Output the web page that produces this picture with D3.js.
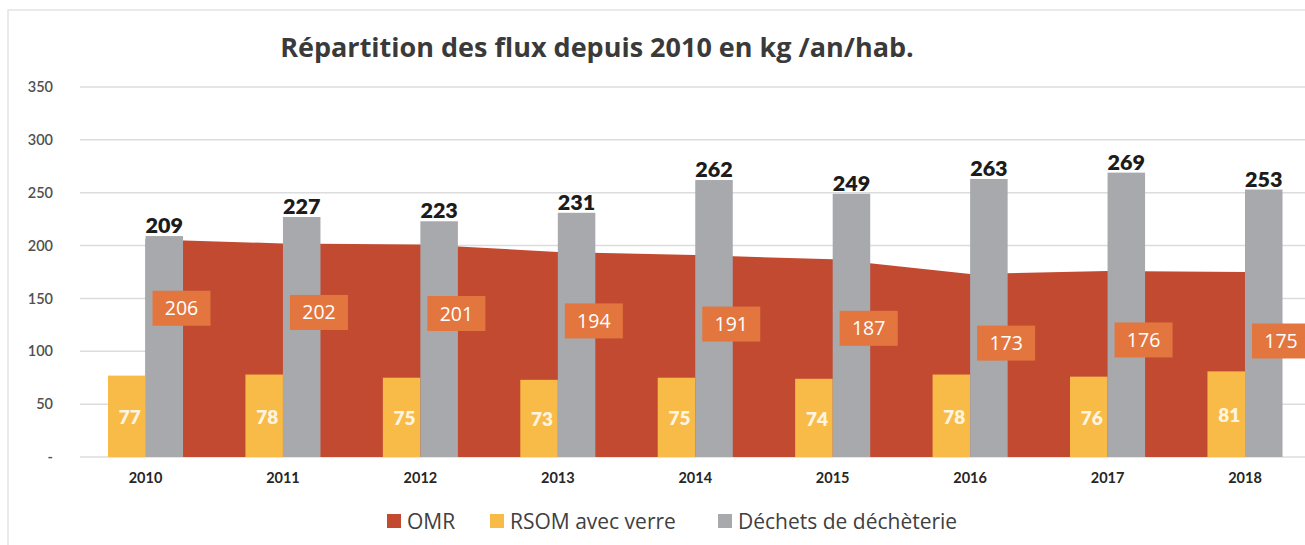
<!DOCTYPE html>
<html><head><meta charset="utf-8">
<script src="https://cdn.jsdelivr.net/npm/d3@7"></script>
<style>body{margin:0;background:#fff;}svg{display:block;}</style>
</head><body>
<svg id="c" width="1305" height="545"></svg>
<script>
const years = ["2010","2011","2012","2013","2014","2015","2016","2017","2018"];
const omr = [206,202,201,194,191,187,173,176,175];
const rsom = [77,78,75,73,75,74,78,76,81];
const decheterie = [209,227,223,231,262,249,263,269,253];
const yTicks = [0,50,100,150,200,250,300,350];
const seriesNames = ["OMR","RSOM avec verre","Déchets de déchèterie"];
const title = "Répartition des flux depuis 2010 en kg /an/hab.";

const colors = {omr:"#c24a31", rsom:"#f8bb47", dech:"#a7a9ac", box:"#e3763f"};
const font = "Lato, 'Open Sans', sans-serif";
const font2 = "'Open Sans', Lato, sans-serif";

const svg = d3.select("#c");
svg.append("rect").attr("x",8).attr("y",10).attr("width",1320).attr("height",560)
  .attr("fill","none").attr("stroke","#e3e3e3").attr("stroke-width",1.5);

const x = d3.scaleBand().domain(years).range([76.8, 1313.7]).paddingInner(0.454).paddingOuter(0.227);
const x1 = d3.scaleBand().domain(["rsom","dech"]).range([0, x.bandwidth()]);
const y = d3.scaleLinear().domain([0,350]).range([457,87]);
const cx = d => x(d) + x.bandwidth()/2;

// grid
svg.append("g").selectAll("line").data(yTicks).join("line")
  .attr("x1",80).attr("x2",1305).attr("y1",d=>y(d)).attr("y2",d=>y(d))
  .attr("stroke","#dcdcdc").attr("stroke-width",1.5);

// y axis labels
const yAxis = d3.axisLeft(y).tickValues(yTicks).tickSize(0).tickPadding(0)
  .tickFormat(d => d===0 ? "-" : d);
const ya = svg.append("g").attr("transform","translate(53,0)").call(yAxis);
ya.select(".domain").remove();
ya.selectAll("text").attr("font-family",font).attr("font-size",14.5).attr("font-weight",600).attr("fill","#505050");

// area
const area = d3.area().x((d,i)=>cx(years[i])).y0(y(0)).y1(d=>y(d));
svg.append("path").datum(omr).attr("d",area).attr("fill",colors.omr);

// bars
svg.append("g").selectAll("rect").data(rsom).join("rect")
  .attr("x",(d,i)=>x(years[i])+x1("rsom")).attr("width",x1.bandwidth())
  .attr("y",d=>y(d)).attr("height",d=>y(0)-y(d)).attr("fill",colors.rsom);
svg.append("g").selectAll("rect").data(decheterie).join("rect")
  .attr("x",(d,i)=>x(years[i])+x1("dech")).attr("width",x1.bandwidth())
  .attr("y",d=>y(d)).attr("height",d=>y(0)-y(d)).attr("fill",colors.dech);

// x axis labels
const xAxis = d3.axisBottom(x).tickSize(0).tickPadding(0);
const xa = svg.append("g").attr("transform","translate(0,473)").call(xAxis);
xa.select(".domain").remove();
xa.selectAll("text").attr("font-family",font).attr("font-size",14.5).attr("font-weight",700).attr("fill","#262626");

// dechetterie labels
svg.append("g").selectAll("text").data(decheterie).join("text")
  .attr("x",(d,i)=>x(years[i])+x1("dech")+x1.bandwidth()/2).attr("y",d=>y(d)-3)
  .attr("text-anchor","middle").attr("font-family",font).attr("font-size",21.5).attr("font-weight",800)
  .attr("fill","#1c1c1c").text(d=>d);

// rsom labels
svg.append("g").selectAll("text").data(rsom).join("text")
  .attr("x",(d,i)=>x(years[i])+x1("rsom")+x1.bandwidth()/2+3).attr("y",d=>y(d/2)+8)
  .attr("text-anchor","middle").attr("font-family",font).attr("font-size",19).attr("font-weight",800)
  .attr("fill","#fff4e0").text(d=>d);

// omr labels
const og = svg.append("g").selectAll("g").data(omr).join("g")
  .attr("transform",(d,i)=>`translate(${cx(years[i])+36},${y(d)+69})`);
og.append("rect").attr("x",-29).attr("y",-17.5).attr("width",58).attr("height",35).attr("fill",colors.box);
og.append("text").attr("text-anchor","middle").attr("y",7).attr("font-family",font2).attr("font-size",19.5)
  .attr("font-weight",500).attr("fill","#fff").text(d=>d);

// title
svg.append("text").attr("x",597).attr("y",57).attr("text-anchor","middle")
  .attr("font-family",font2).attr("font-size",27).attr("font-weight",700).attr("fill","#3a3a3a").text(title);

// legend
const legColors = [colors.omr, colors.rsom, colors.dech];
const legX = [387, 490, 718];
const lg = svg.append("g").selectAll("g").data(seriesNames).join("g")
  .attr("transform",(d,i)=>`translate(${legX[i]},521)`);
lg.append("rect").attr("x",0).attr("y",-7).attr("width",14).attr("height",14).attr("fill",(d,i)=>legColors[i]);
lg.append("text").attr("x",20).attr("y",7.5).attr("font-family",font2).attr("font-size",21)
  .attr("fill","#404040").text(d=>d);
</script>
</body></html>
